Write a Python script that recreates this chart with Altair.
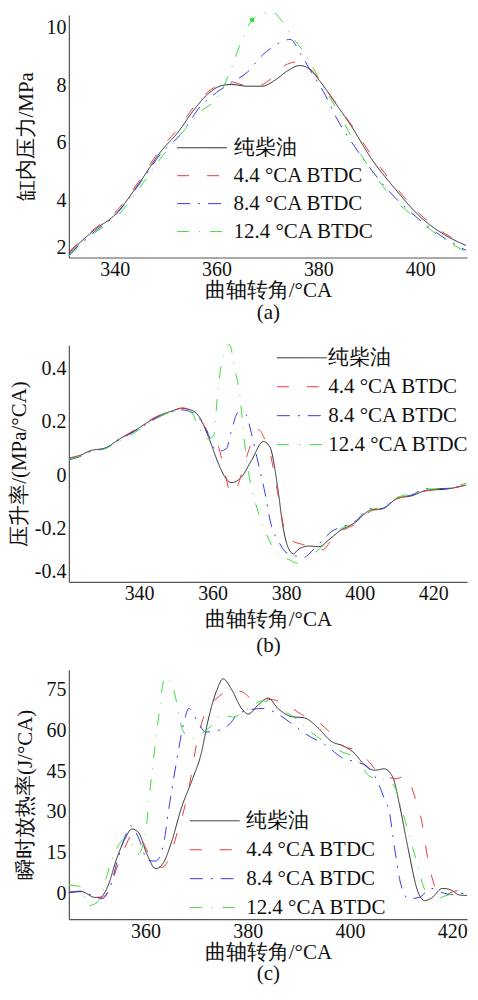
import altair as alt
import pandas as pd

FONT = "'Liberation Serif', 'Times New Roman', Times, serif"
SERIES = ["纯柴油", "4.4 °CA BTDC", "8.4 °CA BTDC", "12.4 °CA BTDC"]
COLORS = ["#2b2b2b", "#ee3a3a", "#3a3ae8", "#3ade3a"]
DASHES = [[1, 0], [12, 18], [13, 8, 2, 8], [12, 10, 1, 10]]

# ---------------- panel (a): cylinder pressure (MPa) ----------------
a_x_diesel = [331, 336, 340, 345, 349, 352.5, 355.7, 358.3, 361, 363, 366, 369, 371.4, 374, 376.3, 378, 380.2, 383.2, 386.4, 390.4, 395, 400, 405.4, 409]
a_y_diesel = [2.15, 2.96, 3.48, 4.64, 5.68, 6.38, 7.18, 7.7, 7.99, 8.03, 7.97, 7.97, 8.17, 8.51, 8.69, 8.6, 8.17, 7.42, 6.6, 5.45, 4.41, 3.42, 2.73, 2.42]
a_x_44 = [331, 336, 340, 345, 349, 352.5, 356, 358.5, 361, 363, 365, 368, 370.5, 373.5, 376, 378, 380, 383, 386.5, 390.5, 395, 400, 405, 409]
a_y_44 = [2.2, 3.0, 3.55, 4.72, 5.78, 6.5, 7.35, 7.8, 8.05, 8.12, 8.02, 7.97, 8.2, 8.7, 8.82, 8.65, 8.25, 7.5, 6.62, 5.55, 4.5, 3.5, 2.82, 2.45]
a_x_84 = [331, 336, 340, 345, 349, 353, 357, 360, 363, 366, 369, 372, 374.5, 376.5, 378.5, 381, 384, 387, 390, 395, 400, 405, 409]
a_y_84 = [2.1, 2.9, 3.45, 4.6, 5.6, 6.3, 7.3, 7.75, 8.1, 8.45, 9.05, 9.45, 9.6, 9.1, 8.5, 7.78, 6.72, 5.9, 5.15, 4.1, 3.3, 2.65, 2.25]
a_x_124 = [331, 336, 340, 345, 349, 353, 357, 360, 362.5, 365, 367, 369, 371, 373, 375, 377, 379, 381, 384, 388, 394, 400, 405, 409]
a_y_124 = [2.05, 2.85, 3.35, 4.45, 5.45, 6.3, 7.1, 7.55, 8.4, 9.6, 10.28, 10.5, 10.55, 10.2, 9.65, 9.2, 8.6, 7.95, 7.05, 5.7, 4.2, 3.25, 2.6, 2.2]
a_marker_x = [367]
a_marker_y = [10.28]

# ---------------- panel (b): pressure rise rate (MPa/°CA) ----------------
b_x_diesel = [321, 324, 327, 330.5, 334.7, 338.8, 343, 346, 349, 351.5, 354.2, 356.5, 358.9, 361.6, 363.3, 365.2, 367.9, 370.6, 373.8, 375.6, 377.8, 379.1, 380.5, 382, 383.2, 386, 389, 391.8, 394.5, 398.6, 403.2, 406, 410.4, 414, 418.5, 423, 429]
b_y_diesel = [0.062, 0.074, 0.093, 0.10, 0.136, 0.167, 0.204, 0.226, 0.241, 0.251, 0.244, 0.216, 0.142, 0.043, -0.006, -0.028, -0.006, 0.056, 0.126, 0.105, -0.056, -0.19, -0.27, -0.295, -0.28, -0.266, -0.268, -0.24, -0.21, -0.179, -0.13, -0.127, -0.086, -0.078, -0.056, -0.053, -0.037]
b_x_44 = [321, 324, 327, 330.5, 334.7, 338.8, 343, 346, 349, 352, 354.5, 357, 359.5, 361.5, 363.3, 365, 366.5, 368.3, 370, 372.5, 374, 375.5, 377.4, 379.5, 381, 384.6, 387, 390, 392, 394.5, 398.6, 403, 406, 410, 414, 418.5, 423, 429]
b_y_44 = [0.065, 0.075, 0.093, 0.10, 0.136, 0.17, 0.207, 0.228, 0.243, 0.252, 0.235, 0.2, 0.145, 0.11, 0.012, -0.07, -0.05, 0.025, 0.1, 0.17, 0.14, 0.09, -0.043, -0.2, -0.24, -0.26, -0.265, -0.28, -0.25, -0.215, -0.185, -0.135, -0.125, -0.09, -0.075, -0.058, -0.053, -0.037]
b_x_84 = [321, 324, 327, 330.5, 334.7, 338.8, 343, 346, 349, 351.5, 354.5, 357, 359, 360.5, 361.8, 363.8, 365, 367, 369, 370.5, 372, 374, 376, 378, 380, 382, 384.6, 387, 389.5, 392.5, 395, 398.6, 403, 406, 410, 414, 418.5, 423, 429]
b_y_84 = [0.058, 0.07, 0.09, 0.10, 0.133, 0.165, 0.2, 0.223, 0.238, 0.245, 0.235, 0.2, 0.148, 0.1, 0.09, 0.1, 0.16, 0.235, 0.228, 0.16, 0.07, -0.05, -0.19, -0.25, -0.29, -0.3, -0.31, -0.285, -0.25, -0.21, -0.195, -0.175, -0.125, -0.125, -0.085, -0.075, -0.05, -0.05, -0.035]
b_x_124 = [321, 324, 327, 330.5, 334.7, 338.8, 343, 346, 349, 351.5, 354.2, 355.6, 357, 359, 360.3, 361.5, 363, 364.6, 366, 367.4, 368.7, 370.3, 372, 374, 376, 378, 380.5, 383, 385, 387, 390, 392.4, 395, 398.6, 403, 406, 410, 414, 418.5, 423, 429]
b_y_124 = [0.06, 0.072, 0.09, 0.098, 0.128, 0.16, 0.197, 0.222, 0.238, 0.245, 0.235, 0.2, 0.16, 0.135, 0.15, 0.33, 0.45, 0.49, 0.4, 0.3, 0.12, -0.03, -0.12, -0.2, -0.26, -0.3, -0.315, -0.33, -0.32, -0.3, -0.265, -0.23, -0.2, -0.18, -0.13, -0.12, -0.085, -0.07, -0.052, -0.05, -0.03]

# ---------------- panel (c): heat release rate (J/°CA) ----------------
c_x_diesel = [345, 347.5, 350.1, 351.1, 352.7, 354.3, 356, 357.3, 358.6, 360.2, 362, 363.5, 365.1, 367, 369.3, 370.9, 372.2, 373.9, 375.2, 376.8, 378.8, 380.1, 382, 384, 385.9, 388.5, 391.1, 393.7, 396.3, 398.9, 400.9, 402.8, 404.8, 406.7, 408.4, 409.7, 411.3, 413.3, 414.6, 415.9, 418.1, 419.8, 421.4, 422.9]
c_y_diesel = [0.25, 0.6, -1.5, -1.5, 3, 12.5, 20.2, 23.7, 22.5, 14.8, 9.1, 11.3, 19, 31.4, 42.7, 51.6, 63.5, 74.7, 79.1, 75.3, 68.2, 66.1, 69.4, 72, 68.2, 65.2, 64.7, 61.1, 56.1, 54.2, 51.6, 47.4, 45.4, 45.9, 42.7, 32.6, 17.2, 0.6, -2.7, -1.8, 1.8, 1.2, -0.6, -0.8]
c_x_44 = [345, 347.5, 350, 351.5, 353, 354.5, 356, 357.5, 359, 360.5, 362, 363.2, 364.5, 366, 368.3, 370.2, 372, 374, 376.5, 378.8, 380.5, 382.5, 384.5, 386.5, 388.5, 390.5, 393.5, 396, 398.5, 401, 403.5, 405.2, 407, 409, 411, 412.6, 414, 415.3, 416.5, 418, 420, 422.9]
c_y_44 = [0.5, 0.8, -1.2, -1.5, 2, 10, 17, 22, 20.5, 15, 11, 9.5, 12.5, 21, 37, 57, 68, 72, 74.8, 74.4, 72, 70.8, 71.5, 70.5, 68.5, 66, 63.5, 59.5, 54.5, 52.8, 49, 45.2, 43, 42.3, 43.3, 36, 27, 12, 3, -1.2, 0.5, 1.5]
c_x_84 = [345, 347.5, 350, 351.5, 353, 354.5, 356, 357.1, 358.5, 360.5, 362, 363.5, 364.7, 366.2, 367.5, 368.5, 370, 371.8, 374, 376.5, 378, 380, 383, 386, 389, 392, 395, 398.5, 401, 403.2, 405.2, 406.7, 407.8, 408.7, 410, 411.5, 413.5, 416, 418, 420, 422.9]
c_y_84 = [0.3, 0.8, -1.2, -2, 2, 12, 21, 24.9, 21, 12.1, 11.9, 18, 33, 50, 63, 68.2, 64, 59.5, 60, 62.5, 66, 67.5, 68.2, 66, 62, 58, 55, 50, 48.5, 47, 42, 35, 29, 17, 3, -2, -1.5, 1.8, 0.3, -0.5, 0.2]
c_x_124 = [345, 347, 349, 351, 352.5, 354, 356, 357, 358.5, 359.8, 361, 362.5, 363.8, 365.5, 367.3, 369, 371, 373, 375, 377, 380, 383, 386, 389, 392, 395, 398, 401, 404, 406.5, 408.5, 410.3, 411.5, 413, 414.5, 416.5, 418.5, 420.5, 422.9]
c_y_124 = [3, 2.6, -4.5, -2.5, 7, 15, 20, 19, 14.5, 20, 40, 64, 79.7, 75, 60, 57, 59, 62, 66, 65, 68, 71, 68, 65, 60, 56, 52.5, 50, 43, 42, 40, 30, 22, 12, 2, -2.5, -1, 0, 0.5]


def to_long(xs, ys):
    rows = []
    for s, xv, yv in zip(SERIES, xs, ys):
        for xi, yi in zip(xv, yv):
            rows.append({"series": s, "x": xi, "y": yi})
    return pd.DataFrame(rows)


W = 399


def panel(df, xdom, ydom, xticks, yticks, ytitle, ytx, xlines, xty, xlh,
          lx, ly, lrow, loff, h, ylabel_expr=None, marker=None):
    leg = alt.Legend(title=None, orient="none", legendX=lx, legendY=ly,
                     symbolType="M-1,0H4", symbolSize=400, symbolStrokeWidth=1,
                     labelFontSize=21, labelFont=FONT, labelOffset=loff,
                     rowPadding=lrow, padding=0, labelColor="#111", labelLimit=400)
    ykw = dict(values=yticks, title=ytitle, titleX=ytx, titleY=h / 2,
               titleAngle=270, titleAlign="center", titleBaseline="middle",
               labelPadding=3, labelFlush=True)
    if ylabel_expr:
        ykw["labelExpr"] = ylabel_expr
    xenc = alt.X("x:Q", scale=alt.Scale(domain=xdom, nice=False, zero=False),
                 axis=alt.Axis(values=xticks, title=xlines, titleX=W / 2,
                               titleY=xty, titleAlign="center",
                               titleBaseline="top", titleLineHeight=xlh,
                               labelPadding=2, labelFlush=False))
    yenc = alt.Y("y:Q", scale=alt.Scale(domain=ydom, nice=False, zero=False),
                 axis=alt.Axis(**ykw))
    color = alt.Color("series:N", scale=alt.Scale(domain=SERIES, range=COLORS), legend=leg)
    dash = alt.StrokeDash("series:N", scale=alt.Scale(domain=SERIES, range=DASHES), legend=leg)
    base = alt.Chart(df).encode(x=xenc, y=yenc, color=color, strokeDash=dash)
    layers = [base.transform_filter(alt.datum.series == s)
              .mark_line(strokeWidth=1, interpolate="monotone") for s in SERIES]
    if marker is not None:
        mdf = pd.DataFrame({"x": marker[0], "y": marker[1]})
        layers.append(alt.Chart(mdf).mark_point(filled=True, size=22, opacity=1,
                                                color=COLORS[3])
                      .encode(x="x:Q", y="y:Q"))
    return alt.layer(*layers).properties(width=W, height=h)


pa = panel(to_long([a_x_diesel, a_x_44, a_x_84, a_x_124], [a_y_diesel, a_y_44, a_y_84, a_y_124]),
           [331, 409.2], [2, 10.45], [340, 360, 380, 400], [2, 4, 6, 8, 10],
           "缸内压力/MPa", -42, ["曲轴转角/°CA", "(a)"], 22, 22,
           108, 122.5, 6, 36, 243, marker=(a_marker_x, a_marker_y))

pb = panel(to_long([b_x_diesel, b_x_44, b_x_84, b_x_124], [b_y_diesel, b_y_44, b_y_84, b_y_124]),
           [320.9, 429.2], [-0.4, 0.487], [340, 360, 380, 400, 420], [-0.4, -0.2, 0, 0.2, 0.4],
           "压升率/(MPa/°CA)", -49, ["曲轴转角/°CA", "(b)"], 27, 26,
           208, 2, 7, 31, 237,
           ylabel_expr="datum.value == 0 ? '0' : (datum.value < 0 ? '-' : '') + format(abs(datum.value), '.1f')")

pc = panel(to_long([c_x_diesel, c_x_44, c_x_84, c_x_124], [c_y_diesel, c_y_44, c_y_84, c_y_124]),
           [345, 422.9], [-9.5, 82.5], [360, 380, 400, 420], [0, 15, 30, 45, 60, 75],
           "瞬时放热率(J/°CA)", -43, ["曲轴转角/°CA", "(c)"], 22, 22,
           120.7, 141, 7, 36, 250)

chart = (alt.vconcat(pa, pb, pc, spacing=88, bounds="flush")
         .resolve_scale(x="independent", y="independent",
                        color="independent", strokeDash="independent")
         .resolve_legend(color="independent", strokeDash="independent")
         .properties(padding={"left": 0, "top": 0, "right": 0, "bottom": 0})
         .configure_view(stroke="transparent")
         .configure_axis(labelFont=FONT, titleFont=FONT, labelFontSize=20,
                         titleFontSize=21, titleFontWeight="normal",
                         labelColor="#111", titleColor="#111",
                         domainColor="#555", domainWidth=1.2,
                         ticks=False, grid=False)
         .configure_legend(labelFont=FONT))

chart.save("out.html", embed_options={"renderer": "svg", "actions": False})
